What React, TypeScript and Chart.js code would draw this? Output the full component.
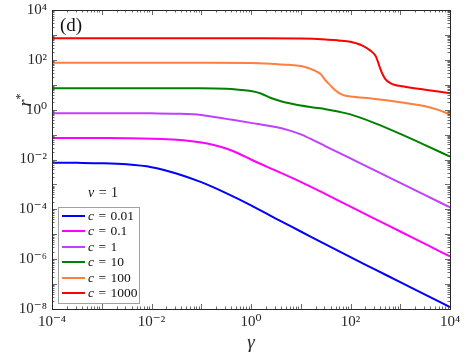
import React, { useEffect, useRef } from 'react';
import { Chart, registerables } from 'chart.js';

Chart.register(...registerables);

// ---- data ----
const cValues = ['0.01', '0.1', '1', '10', '100', '1000'];
const seriesColors = ['#0000ff', '#ff00ff', '#bf40ff', '#008000', '#ff7f3f', '#ff0000'];

const gammaC001 = [1e-4, 3.16e-4, 1e-3, 3.16e-3, 1e-2, 3.16e-2, 0.1, 0.316, 1, 3.16, 10, 31.6, 100, 316, 1e3, 3162, 1e4];
const rC001 = [0.00746, 0.00733, 0.00708, 0.00638, 0.0049, 0.00275, 0.00123, 0.000447, 0.000145, 4.27e-5, 1.29e-5, 3.89e-6, 1.2e-6, 3.8e-7, 1.2e-7, 3.8e-8, 1.2e-8];

const gammaC01 = [1e-4, 3.16e-4, 1e-3, 3.16e-3, 1e-2, 3.16e-2, 0.1, 0.178, 0.316, 0.562, 1, 3.16, 10, 31.6, 100, 316, 1e3, 3162, 1e4];
const rC01 = [0.0731, 0.073, 0.0724, 0.0713, 0.0684, 0.0617, 0.0479, 0.038, 0.0275, 0.0174, 0.01, 0.00355, 0.00126, 0.000407, 0.000129, 4.07e-5, 1.29e-5, 4.07e-6, 1.29e-6];

const gammaC1 = [1e-4, 1e-3, 3.16e-3, 1e-2, 3.16e-2, 0.1, 0.316, 1, 3.16, 5.62, 10, 17.8, 31.6, 100, 316, 1e3, 3162, 1e4];
const rC1 = [0.716, 0.716, 0.715, 0.711, 0.692, 0.617, 0.427, 0.295, 0.2, 0.151, 0.102, 0.0603, 0.0339, 0.011, 0.00355, 0.00115, 0.000372, 0.00012];

const gammaC10 = [1e-4, 1e-2, 3.16e-2, 0.1, 0.316, 0.562, 1, 1.58, 2.51, 3.98, 6.31, 10, 17.8, 31.6, 56.2, 100, 316, 1e3, 3162, 1e4];
const rC10 = [7.21, 7.21, 7.2, 7.16, 6.84, 6.31, 5.62, 4.47, 2.95, 2.19, 1.76, 1.46, 1.23, 1.05, 0.84, 0.646, 0.282, 0.107, 0.038, 0.013];

const gammaC100 = [1e-4, 1e-2, 0.1, 1, 3.16, 5.62, 10, 12.6, 15.8, 20, 25.1, 31.6, 39.8, 50.1, 63.1, 79.4, 100, 316, 1e3, 3162, 5623, 1e4];
const rC100 = [76.7, 76.6, 76.2, 74.6, 67.6, 63.1, 56.2, 50.1, 43.2, 35.5, 26.9, 14.8, 9.23, 5.82, 4.27, 3.63, 3.39, 2.69, 2.0, 1.38, 1.0, 0.653];

const gammaC1000 = [1e-4, 1e-2, 1, 10, 31.6, 56.2, 100, 133, 178, 251, 316, 355, 398, 447, 501, 631, 794, 1e3, 3162, 1e4];
const rC1000 = [731, 731, 728, 716, 661, 603, 537, 457, 363, 234, 148, 85.1, 43.7, 25.1, 17.0, 11.7, 9.77, 8.91, 6.31, 4.54];

const gammaSeries = [gammaC001, gammaC01, gammaC1, gammaC10, gammaC100, gammaC1000];
const rSeries = [rC001, rC01, rC1, rC10, rC100, rC1000];

const xMinExp = -4;
const xMaxExp = 4;
const yMinExp = -8;
const yMaxExp = 4;

const FONT = "'Liberation Serif', 'DejaVu Serif', serif";
const AXIS_COLOR = '#262626';

const SUP: Record<string, string> = {
  '-': '\u207B', '0': '\u2070', '1': '\u00B9', '2': '\u00B2', '3': '\u00B3',
  '4': '\u2074', '5': '\u2075', '6': '\u2076', '7': '\u2077', '8': '\u2078', '9': '\u2079',
};
const sup = (n: number) => String(n).split('').map((ch) => SUP[ch] || ch).join('');

function logTicks(minExp: number, maxExp: number) {
  const out: { value: number }[] = [];
  for (let e = minExp; e <= maxExp; e++) {
    for (let m = 1; m <= 9; m++) {
      if (e === maxExp && m > 1) break;
      out.push({ value: Number(`${m}e${e}`) });
    }
  }
  return out;
}

function decadeLabel(value: number) {
  const e = Math.log10(value);
  const r = Math.round(e);
  if (Math.abs(e - r) < 1e-6 && r % 2 === 0) return '10' + sup(r);
  return '';
}

const boxTicks = {
  id: 'boxTicks',
  afterDatasetsDraw(chart: any) {
    const { ctx, chartArea } = chart;
    const { left, right, top, bottom } = chartArea;
    ctx.save();
    ctx.strokeStyle = '#444444';
    ctx.lineWidth = 0.8;
    const isMajor = (v: number) => {
      const e = Math.log10(v);
      return Math.abs(e - Math.round(e)) < 1e-6;
    };
    const xs = chart.scales.x;
    xs.ticks.forEach((t: any) => {
      const p = Math.round(xs.getPixelForValue(t.value)) + 0.5;
      const len = isMajor(t.value) ? 5 : 2.5;
      ctx.beginPath();
      ctx.moveTo(p, bottom);
      ctx.lineTo(p, bottom - len);
      ctx.moveTo(p, top);
      ctx.lineTo(p, top + len);
      ctx.stroke();
    });
    const ys = chart.scales.y;
    ys.ticks.forEach((t: any) => {
      const p = Math.round(ys.getPixelForValue(t.value)) + 0.5;
      const len = isMajor(t.value) ? 5 : 2.5;
      ctx.beginPath();
      ctx.moveTo(left, p);
      ctx.lineTo(left + len, p);
      ctx.moveTo(right, p);
      ctx.lineTo(right - len, p);
      ctx.stroke();
    });
    ctx.strokeStyle = AXIS_COLOR;
    ctx.lineWidth = 1;
    ctx.strokeRect(Math.round(left) + 0.5, Math.round(top) + 0.5, Math.round(right - left), Math.round(bottom - top));
    ctx.restore();
  },
};

export default function App() {
  const canvasRef = useRef<HTMLCanvasElement | null>(null);

  useEffect(() => {
    if (!canvasRef.current) return;
    const datasets = rSeries.map((ys, i) => ({
      label: `c = ${cValues[i]}`,
      data: ys.map((y, j) => ({ x: gammaSeries[i][j], y })),
      borderColor: seriesColors[i],
      backgroundColor: seriesColors[i],
      borderWidth: 2,
      pointRadius: 0,
      fill: false,
      cubicInterpolationMode: 'monotone' as const,
    }));

    const chart = new Chart(canvasRef.current, {
      type: 'line',
      data: { datasets },
      options: {
        responsive: false,
        animation: false,
        parsing: false as any,
        layout: { padding: { top: 10, right: 19, left: 0, bottom: 0 } },
        plugins: {
          legend: { display: false },
          tooltip: { enabled: false },
        },
        scales: {
          x: {
            type: 'logarithmic',
            min: 1e-4,
            max: 1e4,
            afterBuildTicks: (scale: any) => { scale.ticks = logTicks(xMinExp, xMaxExp); },
            afterFit: (scale: any) => {
              scale.height = 43;
              scale.paddingLeft = 0;
              scale.paddingRight = 0;
            },
            grid: { display: false, drawTicks: false },
            border: { display: false },
            ticks: {
              autoSkip: false,
              maxRotation: 0,
              padding: 4,
              color: AXIS_COLOR,
              font: { family: FONT, size: 15 },
              callback: (v: any) => decadeLabel(Number(v)),
            },
            title: {
              display: true,
              text: 'γ',
              color: AXIS_COLOR,
              padding: { top: 0, bottom: 0 },
              font: { family: FONT, size: 19, style: 'italic', lineHeight: 1 },
            },
          },
          y: {
            type: 'logarithmic',
            min: 1e-8,
            max: 1e4,
            afterBuildTicks: (scale: any) => { scale.ticks = logTicks(yMinExp, yMaxExp); },
            afterFit: (scale: any) => {
              scale.width = 52;
              scale.paddingTop = 0;
              scale.paddingBottom = 0;
            },
            grid: { display: false, drawTicks: false },
            border: { display: false },
            ticks: {
              autoSkip: false,
              padding: 5,
              color: AXIS_COLOR,
              font: { family: FONT, size: 15 },
              callback: (v: any) => decadeLabel(Number(v)),
            },
          },
        },
      },
      plugins: [boxTicks],
    });
    return () => chart.destroy();
  }, []);

  return (
    <div style={{ position: 'absolute', left: 0, top: 0, width: 469, height: 352, background: '#fff' }}>
      <canvas ref={canvasRef} width={469} height={352} style={{ position: 'absolute', left: 0, top: 0 }} />
      <div style={{ position: 'absolute', left: 60, top: 14, fontFamily: FONT, fontSize: 19, lineHeight: '22px', color: '#111' }}>(d)</div>
      <div
        style={{
          position: 'absolute', left: 7, top: 89, width: 26, height: 22,
          fontFamily: FONT, fontSize: 18, lineHeight: '22px', color: AXIS_COLOR,
          transform: 'rotate(-90deg)', textAlign: 'center', whiteSpace: 'nowrap',
        }}
      >
        <i>r</i><sup style={{ fontSize: 12 }}>*</sup>
      </div>
      <div style={{ position: 'absolute', left: 88, top: 185, fontFamily: FONT, fontSize: 14, lineHeight: '16px', color: '#111', whiteSpace: 'nowrap', wordSpacing: 1 }}>
        <i>v</i> = 1
      </div>
      <div
        style={{
          position: 'absolute', left: 58, top: 207, width: 82, height: 97, boxSizing: 'border-box',
          border: '1px solid #a0a0a0', background: '#fff', fontFamily: FONT, fontSize: 13.5, color: '#111',
        }}
      >
        {cValues.map((v, i) => (
          <div key={i} style={{ position: 'absolute', left: 3, top: i * 15.5, height: 15.5, display: 'flex', alignItems: 'center', whiteSpace: 'nowrap' }}>
            <span style={{ display: 'inline-block', width: 23, height: 2, background: seriesColors[i], marginRight: 3 }} />
            <span style={{ wordSpacing: 1 }}><i>c</i> = {v}</span>
          </div>
        ))}
      </div>
    </div>
  );
}
